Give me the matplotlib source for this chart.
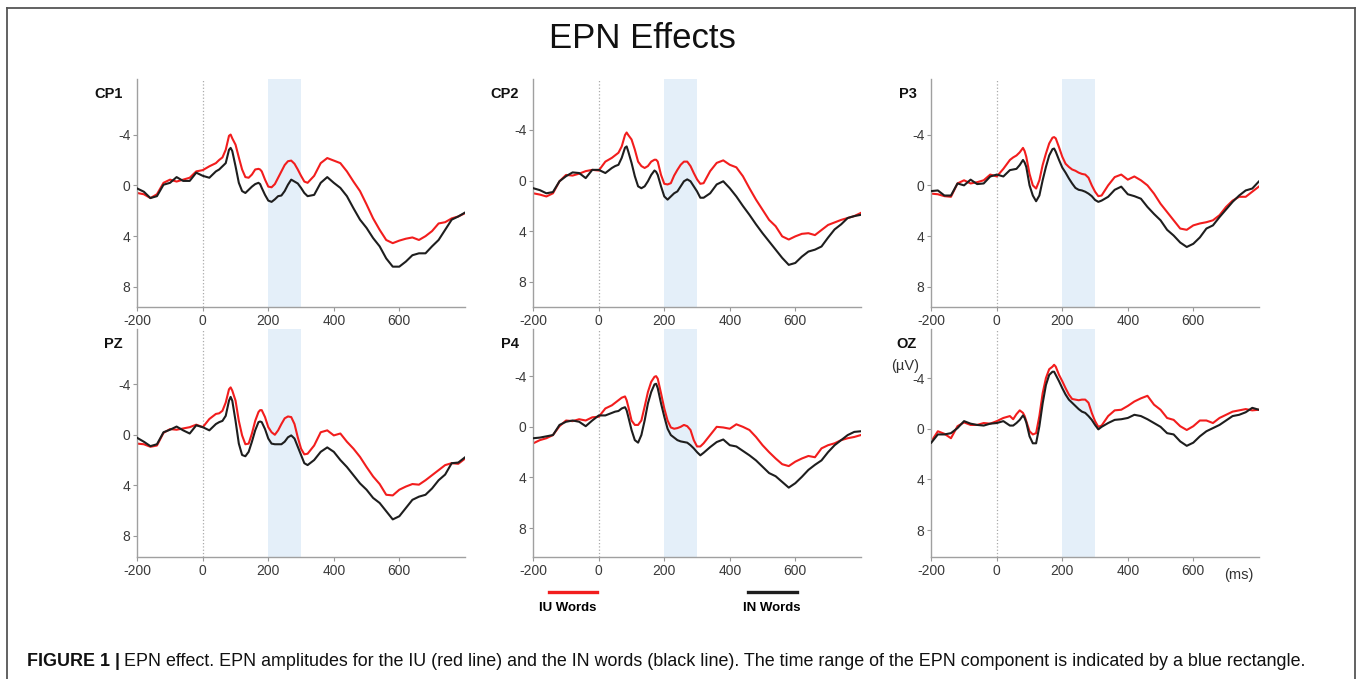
import numpy as np
import matplotlib
matplotlib.use("Agg")
import matplotlib.pyplot as plt
from matplotlib.lines import Line2D

plt.rcParams['font.family'] = ['Liberation Sans', 'DejaVu Sans']
plt.rcParams['axes.unicode_minus'] = False

# time points (ms)
times = [-200, -180, -160, -140, -120, -100, -80, -60, -40, -20, 0,
         20, 40, 50, 60, 70, 80, 85, 90,
         100, 110, 120, 130, 140, 150, 160, 170,
         175, 180, 190, 200, 210, 220, 230, 240, 250, 260, 270, 280, 290, 300, 310, 320,
         340, 360, 380, 400, 420, 440, 460, 480, 500, 520, 540, 560, 580, 600,
         620, 640, 660, 680, 700, 720, 740, 760, 780, 800]

channels = ['CP1', 'CP2', 'P3', 'PZ', 'P4', 'OZ']

# amplitudes in microvolts, IU words (red)
cp1_iu = [0.6, 0.7, 1.0, 0.7, -0.2, -0.45, -0.3, -0.45, -0.6, -1.1, -1.2,
          -1.5, -1.75, -2.0, -2.2, -2.8, -3.9, -4.0, -3.7,
          -3.2, -2.2, -1.25, -0.65, -0.6, -0.85, -1.25, -1.3,
          -1.25, -1.1, -0.45, 0.1, 0.15, -0.1, -0.6, -1.1, -1.6, -1.9, -1.95, -1.7, -1.25, -0.75, -0.3, -0.2,
          -0.75, -1.75, -2.15, -1.95, -1.75, -1.1, -0.3, 0.45, 1.5, 2.6, 3.5, 4.3, 4.55, 4.35,
          4.2, 4.1, 4.3, 4.0, 3.6, 3.0, 2.9, 2.6, 2.45, 2.2]
cp2_iu = [1.0, 1.1, 1.25, 1.0, 0.05, -0.45, -0.4, -0.55, -0.75, -0.85, -0.8,
          -1.5, -1.8, -2.0, -2.2, -2.7, -3.6, -3.8, -3.6,
          -3.25, -2.45, -1.5, -1.15, -1.0, -1.15, -1.5, -1.65,
          -1.65, -1.5, -0.45, 0.25, 0.3, 0.2, -0.4, -0.85, -1.25, -1.5, -1.5, -1.15, -0.6, -0.1, 0.25, 0.2,
          -0.75, -1.4, -1.6, -1.25, -1.05, -0.35, 0.6, 1.5, 2.3, 3.1, 3.6, 4.4, 4.65, 4.4,
          4.2, 4.15, 4.3, 3.9, 3.5, 3.3, 3.1, 2.95, 2.8, 2.55]
p3_iu = [0.65, 0.7, 0.85, 0.9, -0.15, -0.4, -0.15, -0.25, -0.4, -0.85, -0.7,
         -1.3, -2.0, -2.2, -2.35, -2.6, -2.95, -2.7, -2.25,
         -0.9, 0.0, 0.25, -0.4, -1.6, -2.5, -3.3, -3.75,
         -3.8, -3.7, -3.0, -2.25, -1.7, -1.45, -1.25, -1.15, -1.0, -0.9, -0.85, -0.6, 0.0, 0.5, 0.85, 0.8,
         0.0, -0.65, -0.85, -0.45, -0.7, -0.4, 0.0, 0.65, 1.45, 2.1, 2.75, 3.4, 3.5, 3.15,
         3.0, 2.9, 2.75, 2.35, 1.7, 1.2, 0.9, 0.9, 0.5, 0.1]
pz_iu = [0.7, 0.75, 0.95, 0.85, -0.15, -0.45, -0.4, -0.5, -0.6, -0.8, -0.6,
         -1.25, -1.65, -1.7, -1.9, -2.55, -3.6, -3.75, -3.5,
         -2.7, -1.1, 0.05, 0.75, 0.7, -0.1, -1.1, -1.8,
         -1.95, -1.95, -1.4, -0.6, -0.2, 0.0, -0.35, -0.85, -1.3, -1.45, -1.4, -0.85, 0.2, 1.1, 1.55, 1.5,
         0.85, -0.2, -0.35, 0.05, -0.1, 0.55, 1.1, 1.75, 2.55, 3.3, 3.9, 4.75, 4.8, 4.35,
         4.1, 3.9, 3.95, 3.6, 3.2, 2.8, 2.4, 2.25, 2.3, 1.9]
p4_iu = [1.3, 1.05, 0.9, 0.65, -0.05, -0.5, -0.45, -0.6, -0.5, -0.75, -0.8,
         -1.45, -1.7, -1.9, -2.1, -2.3, -2.4, -2.1, -1.6,
         -0.5, -0.15, -0.15, -0.5, -1.6, -2.75, -3.55, -3.95,
         -4.0, -3.8, -2.65, -1.45, -0.5, 0.05, 0.15, 0.1, 0.0, -0.15, -0.05, 0.25, 1.05, 1.55, 1.55, 1.3,
         0.65, 0.0, 0.05, 0.15, -0.2, 0.0, 0.25, 0.8, 1.45, 2.0, 2.5, 2.95, 3.1, 2.75,
         2.5, 2.3, 2.4, 1.7, 1.45, 1.3, 1.05, 0.9, 0.8, 0.65]
oz_iu = [1.0, 0.2, 0.4, 0.75, -0.2, -0.5, -0.3, -0.3, -0.45, -0.4, -0.6,
         -0.85, -1.0, -0.75, -1.15, -1.45, -1.25, -1.0, -0.6,
         0.2, 0.45, 0.35, -1.0, -2.8, -4.0, -4.7, -4.9,
         -5.05, -4.9, -4.25, -3.75, -3.2, -2.7, -2.35, -2.3, -2.25, -2.3, -2.3, -2.05, -1.25, -0.6, -0.15, -0.25,
         -1.0, -1.45, -1.5, -1.8, -2.15, -2.4, -2.6, -1.9, -1.5, -0.85, -0.7, -0.2, 0.1, -0.2,
         -0.65, -0.65, -0.45, -0.85, -1.1, -1.35, -1.45, -1.55, -1.45, -1.5]

# amplitudes in microvolts, IN words (black)
cp1_in = [0.25, 0.5, 1.0, 0.85, -0.05, -0.2, -0.65, -0.35, -0.35, -1.0, -0.75,
          -0.6, -1.1, -1.25, -1.5, -1.75, -2.8, -2.95, -2.7,
          -1.5, -0.2, 0.45, 0.6, 0.35, 0.1, -0.1, -0.2,
          -0.1, 0.2, 0.75, 1.2, 1.3, 1.1, 0.85, 0.8, 0.45, -0.05, -0.45, -0.3, -0.15, 0.2, 0.6, 0.85,
          0.75, -0.2, -0.65, -0.2, 0.2, 0.85, 1.8, 2.7, 3.35, 4.15, 4.8, 5.75, 6.4, 6.4,
          6.0, 5.5, 5.35, 5.35, 4.8, 4.3, 3.5, 2.7, 2.45, 2.15]
cp2_in = [0.6, 0.75, 1.0, 0.9, 0.05, -0.35, -0.65, -0.6, -0.2, -0.85, -0.85,
          -0.6, -1.0, -1.15, -1.25, -1.8, -2.6, -2.7, -2.3,
          -1.4, -0.35, 0.45, 0.6, 0.45, 0.05, -0.45, -0.8,
          -0.7, -0.45, 0.45, 1.25, 1.5, 1.25, 1.0, 0.85, 0.45, 0.05, -0.1, 0.05, 0.45, 0.85, 1.35, 1.35,
          1.0, 0.3, 0.05, 0.6, 1.25, 2.0, 2.7, 3.45, 4.15, 4.8, 5.45, 6.1, 6.65, 6.5,
          6.0, 5.6, 5.45, 5.2, 4.5, 3.85, 3.45, 2.95, 2.8, 2.7]
p3_in = [0.45, 0.4, 0.8, 0.8, -0.15, 0.0, -0.45, -0.1, -0.15, -0.7, -0.85,
         -0.7, -1.2, -1.25, -1.3, -1.6, -2.0, -1.8, -1.45,
         0.0, 0.8, 1.25, 0.8, -0.4, -1.45, -2.35, -2.85,
         -2.9, -2.65, -2.0, -1.4, -1.0, -0.55, -0.15, 0.2, 0.35, 0.4, 0.5, 0.65, 0.85, 1.15, 1.3, 1.2,
         0.9, 0.35, 0.1, 0.7, 0.85, 1.05, 1.7, 2.25, 2.75, 3.5, 3.95, 4.5, 4.85, 4.6,
         4.1, 3.4, 3.15, 2.5, 1.9, 1.3, 0.8, 0.4, 0.25, -0.3]
pz_in = [0.25, 0.55, 0.9, 0.75, -0.2, -0.4, -0.65, -0.35, -0.1, -0.75, -0.6,
         -0.35, -0.85, -1.0, -1.1, -1.5, -2.7, -3.0, -2.7,
         -1.1, 0.7, 1.6, 1.7, 1.35, 0.55, -0.35, -1.0,
         -1.05, -1.0, -0.45, 0.3, 0.7, 0.75, 0.75, 0.75, 0.55, 0.2, 0.05, 0.3, 0.95, 1.6, 2.25, 2.4,
         2.0, 1.35, 1.0, 1.35, 2.0, 2.55, 3.2, 3.85, 4.35, 5.0, 5.4, 6.05, 6.7, 6.45,
         5.8, 5.15, 4.9, 4.75, 4.25, 3.6, 3.15, 2.25, 2.2, 1.8]
p4_in = [0.9, 0.85, 0.75, 0.65, -0.15, -0.4, -0.5, -0.4, -0.05, -0.5, -0.9,
         -0.9, -1.1, -1.2, -1.25, -1.45, -1.55, -1.3, -0.8,
         0.25, 1.05, 1.25, 0.65, -0.5, -1.85, -2.75, -3.35,
         -3.4, -3.05, -1.85, -0.8, 0.15, 0.65, 0.85, 1.05, 1.15, 1.2, 1.25, 1.45, 1.7, 2.0, 2.25, 2.05,
         1.6, 1.2, 1.0, 1.45, 1.55, 1.9, 2.25, 2.65, 3.15, 3.65, 3.9, 4.35, 4.8, 4.45,
         3.95, 3.4, 3.0, 2.65, 2.0, 1.45, 1.05, 0.65, 0.4, 0.35]
oz_in = [1.1, 0.45, 0.45, 0.35, -0.05, -0.6, -0.4, -0.3, -0.25, -0.4, -0.45,
         -0.6, -0.25, -0.25, -0.45, -0.7, -1.05, -0.85, -0.5,
         0.6, 1.15, 1.15, -0.2, -2.0, -3.45, -4.25, -4.5,
         -4.5, -4.25, -3.75, -3.2, -2.7, -2.3, -2.05, -1.8, -1.55, -1.35, -1.25, -1.0, -0.7, -0.3, 0.05, -0.15,
         -0.45, -0.7, -0.75, -0.85, -1.1, -1.0, -0.75, -0.45, -0.15, 0.35, 0.45, 1.0, 1.35, 1.1,
         0.6, 0.2, -0.05, -0.3, -0.65, -1.0, -1.1, -1.3, -1.65, -1.5]

iu_words = [cp1_iu, cp2_iu, p3_iu, pz_iu, p4_iu, oz_iu]
in_words = [cp1_in, cp2_in, p3_in, pz_in, p4_in, oz_in]

epn_window = (200, 300)
xticks = [-200, 0, 200, 400, 600]
yticks = [-4, 0, 4, 8]

# per panel y range (inverted, negative up)
ylims = [(9.6, -8.35), (10.0, -8.0), (9.6, -8.35), (9.7, -8.35), (10.3, -7.7), (10.15, -7.85)]

W, H = 1358, 679
fig = plt.figure(figsize=(W / 100, H / 100), dpi=100)

lefts = [137.3, 533.3, 931.3]
bottoms = [307.3, 557.3]
aw, ah = 327.5, 228

for k, ch in enumerate(channels):
    r, c = divmod(k, 3)
    ax = fig.add_axes([lefts[c] / W, (H - bottoms[r]) / H, aw / W, ah / H])
    ax.axvspan(*epn_window, color='#e4eff9', lw=0, zorder=0)
    ax.axvline(0, color='#aaaaaa', ls=':', lw=0.9, zorder=1)
    ax.plot(times, in_words[k], color='#1e1e1e', lw=1.5, zorder=3)
    ax.plot(times, iu_words[k], color='#f21d1d', lw=1.5, zorder=2)
    ax.set_xlim(-200, 800)
    ax.set_ylim(*ylims[k])
    ax.set_xticks(xticks)
    ax.set_yticks(yticks)
    ax.tick_params(labelsize=10, labelcolor='#3a3a3a', color='#999999', length=3, width=0.8, pad=2)
    for s in ['top', 'right']:
        ax.spines[s].set_visible(False)
    for s in ['left', 'bottom']:
        ax.spines[s].set_color('#a0a0a0')
        ax.spines[s].set_linewidth(1.0)
    ax.text(-0.045, 0.934, ch, transform=ax.transAxes, ha='right', va='center',
            fontsize=10.5, fontweight='bold', color='#111111')
    if ch == 'OZ':
        ax.text(-0.122, 0.838, '(µV)', transform=ax.transAxes, ha='left', va='center',
                fontsize=10.5, color='#333333')
        ax.text(0.893, -0.079, '(ms)', transform=ax.transAxes, ha='left', va='center',
                fontsize=10.5, color='#333333')

fig.text(642.5 / W, 1 - 38.5 / H, 'EPN Effects', ha='center', va='center', fontsize=25, color='#111111')

# legend
fig.add_artist(Line2D([549 / W, 597 / W], [1 - 592 / H] * 2, color='#f21d1d', lw=2.4))
fig.add_artist(Line2D([748 / W, 797 / W], [1 - 592 / H] * 2, color='#1e1e1e', lw=2.4))
fig.text(568 / W, 1 - 608 / H, 'IU Words', ha='center', va='center', fontsize=9.5, fontweight='bold')
fig.text(772 / W, 1 - 608 / H, 'IN Words', ha='center', va='center', fontsize=9.5, fontweight='bold')

# frame around the figure
fc = '#555555'
fig.add_artist(Line2D([7 / W, 1355 / W], [1 - 8 / H] * 2, color=fc, lw=1.3))
fig.add_artist(Line2D([7 / W, 7 / W], [0, 1 - 8 / H], color=fc, lw=1.3))
fig.add_artist(Line2D([1355 / W, 1355 / W], [0, 1 - 8 / H], color=fc, lw=1.3))

# caption
cap_y = 1 - 662 / H
t1 = fig.text(27 / W, cap_y, 'FIGURE 1 |', ha='left', va='center', fontsize=12.9, fontweight='bold', color='#111111')
fig.canvas.draw()
bb = t1.get_window_extent()
fig.text((bb.x1 + 4) / W, cap_y,
         'EPN effect. EPN amplitudes for the IU (red line) and the IN words (black line). '
         'The time range of the EPN component is indicated by a blue rectangle.',
         ha='left', va='center', fontsize=12.9, color='#111111')

fig.savefig('out.png', dpi=100, facecolor='white')
